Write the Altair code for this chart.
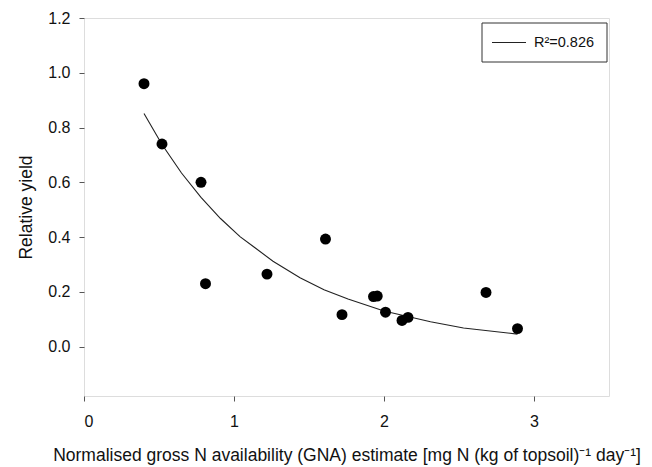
import altair as alt
import pandas as pd

# Observed points
gna = [0.40, 0.52, 0.78, 0.81, 1.22, 1.61, 1.72, 1.93, 1.955, 2.01, 2.12, 2.16, 2.68, 2.89]
rel_yield = [0.96, 0.74, 0.60, 0.23, 0.265, 0.393, 0.117, 0.183, 0.185, 0.126, 0.096, 0.107, 0.198, 0.066]

# Fitted curve
curve_x = [0.40, 0.52, 0.65, 0.78, 0.91, 1.04, 1.26, 1.44, 1.60, 1.76, 2.00, 2.31, 2.53, 2.89]
curve_y = [0.851, 0.738, 0.634, 0.545, 0.468, 0.402, 0.312, 0.252, 0.208, 0.174, 0.130, 0.091, 0.068, 0.046]

fit_label = "R²=0.826"

pts = pd.DataFrame({"x": gna, "y": rel_yield})
crv = pd.DataFrame({"x": curve_x, "y": curve_y})
leg = pd.DataFrame({"label": [fit_label]})

FONT = "Liberation Sans"

xscale = alt.Scale(domain=[0, 3.5], nice=False, zero=False)
yscale = alt.Scale(domain=[-0.18, 1.2], nice=False, zero=False)

xaxis = alt.Axis(
    title="Normalised gross N availability (GNA) estimate [mg N (kg of topsoil)⁻¹ day⁻¹]",
    values=[0, 1, 2, 3], format="d", grid=False, domain=False,
    tickColor="#555", tickSize=5, labelPadding=12, titlePadding=17,
    labelFontSize=16, titleFontSize=17.5, titleFontWeight="normal",
    labelColor="#111", titleColor="#111", labelFont=FONT, titleFont=FONT,
)
yaxis = alt.Axis(
    title="Relative yield",
    values=[0, 0.2, 0.4, 0.6, 0.8, 1.0, 1.2], format=".1f", grid=False, domain=False,
    tickColor="#555", tickSize=5, labelPadding=9, titlePadding=12,
    labelFontSize=16, titleFontSize=17.5, titleFontWeight="normal",
    labelColor="#111", titleColor="#111", labelFont=FONT, titleFont=FONT,
)

line = alt.Chart(crv).mark_line(strokeWidth=1.1, color="#222").encode(
    x=alt.X("x:Q", scale=xscale, axis=xaxis),
    y=alt.Y("y:Q", scale=yscale, axis=yaxis),
)

points = alt.Chart(pts).mark_circle(size=120, color="black", opacity=1).encode(
    x=alt.X("x:Q", scale=xscale),
    y=alt.Y("y:Q", scale=yscale),
)

legend_box = alt.Chart(leg).mark_rect(fill="white", stroke="#333", strokeWidth=1).encode(
    x=alt.value(398), x2=alt.value(523), y=alt.value(5), y2=alt.value(44),
)
legend_line = alt.Chart(leg).mark_rule(color="#222", strokeWidth=1.1).encode(
    x=alt.value(408), x2=alt.value(442), y=alt.value(24.5),
)
legend_text = alt.Chart(leg).mark_text(
    align="left", baseline="middle", fontSize=14.5, font=FONT, color="#111"
).encode(
    x=alt.value(450), y=alt.value(24.5), text="label:N",
)

chart = (
    alt.layer(line, points, legend_box, legend_line, legend_text)
    .properties(
        width=525, height=378,
        autosize=alt.AutoSizeParams(type="none"),
        padding={"left": 76, "top": 10, "right": 35, "bottom": 70},
    )
    .configure_view(stroke="#555", strokeWidth=1)
    .configure(background="white")
)

chart.save("out.html", embed_options={"renderer": "svg", "actions": False})
